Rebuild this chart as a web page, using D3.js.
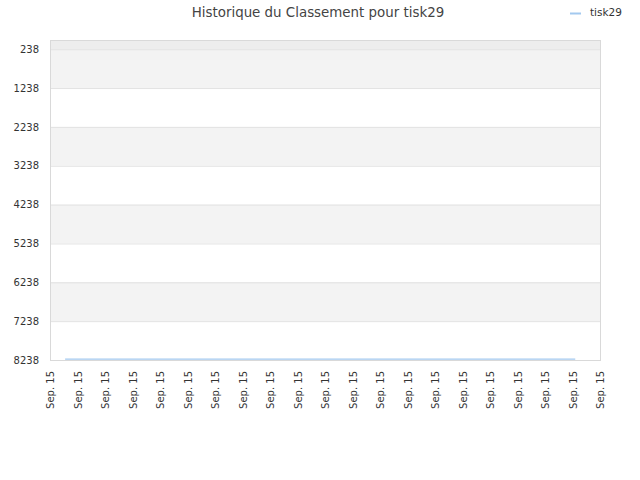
<!DOCTYPE html>
<html>
<head>
<meta charset="utf-8">
<style>
    body { margin: 0; background: #fff; font-family: "DejaVu Sans", sans-serif; }
    svg text { fill: #333; }
</style>
<script src="https://cdn.jsdelivr.net/npm/d3@7"></script>
</head>
<body>
<svg id="chart" width="640" height="480"></svg>
<script>
// data
let playerName = "tisk29"
let xLabels = ["Sep. 15", "Sep. 15", "Sep. 15", "Sep. 15", "Sep. 15", "Sep. 15", "Sep. 15",
    "Sep. 15", "Sep. 15", "Sep. 15", "Sep. 15", "Sep. 15", "Sep. 15", "Sep. 15",
    "Sep. 15", "Sep. 15", "Sep. 15", "Sep. 15", "Sep. 15", "Sep. 15", "Sep. 15"]
let yTicks = [238, 1238, 2238, 3238, 4238, 5238, 6238, 7238, 8238]
let pointX = [0.55, 19.1]
let pointRank = [8213, 8213]

let margin = { top: 40, right: 40, bottom: 120, left: 50 }
let width = 640, height = 480
let bodyWidth = width - margin.left - margin.right
let bodyHeight = height - margin.top - margin.bottom

let svg = d3.select("#chart")

let x = d3.scaleLinear().domain([0, xLabels.length - 1]).range([margin.left, margin.left + bodyWidth])
let y = d3.scaleLinear().domain([1, 8238]).range([margin.top, margin.top + bodyHeight])

// alternating bands
let bands = [[1, 238, "#ededed"]]
for (let i = 0; i < yTicks.length - 1; i++) {
    bands.push([yTicks[i], yTicks[i + 1], i % 2 === 0 ? "#f3f3f3" : "#ffffff"])
}
svg.append("g").selectAll("rect").data(bands).enter().append("rect")
    .attr("x", margin.left)
    .attr("width", bodyWidth)
    .attr("y", d => y(d[0]))
    .attr("height", d => y(d[1]) - y(d[0]))
    .attr("fill", d => d[2])

// grid lines
svg.append("g").selectAll("line").data(yTicks).enter().append("line")
    .attr("x1", margin.left).attr("x2", margin.left + bodyWidth)
    .attr("y1", d => y(d) + 0.5).attr("y2", d => y(d) + 0.5)
    .attr("stroke", "#e2e2e2")

// frame
svg.append("rect")
    .attr("x", margin.left + 0.5).attr("y", margin.top + 0.5)
    .attr("width", bodyWidth).attr("height", bodyHeight)
    .attr("fill", "none").attr("stroke", "#d9d9d9")

// y axis
let axisY = d3.axisLeft(y).tickValues(yTicks).tickSize(0).tickPadding(11).tickFormat(d => d)
let gy = svg.append("g").attr("transform", `translate(${margin.left},0)`).call(axisY)
gy.select(".domain").remove()
gy.selectAll("text").attr("font-size", 10).attr("font-family", "DejaVu Sans")

// x axis
let axisX = d3.axisBottom(x).tickValues(d3.range(xLabels.length)).tickSize(0).tickFormat(i => xLabels[i])
let gx = svg.append("g").attr("transform", `translate(0,${margin.top + bodyHeight})`).call(axisX)
gx.select(".domain").remove()
gx.selectAll("text")
    .attr("font-size", 10).attr("font-family", "DejaVu Sans")
    .attr("text-anchor", "end")
    .attr("transform", "rotate(-90)")
    .attr("x", -11).attr("y", 0).attr("dy", "0.35em")

// line
let line = d3.line().x((d, i) => x(pointX[i])).y(d => y(d))
svg.append("path").datum(pointRank)
    .attr("d", line)
    .attr("fill", "none")
    .attr("stroke", "#a3c9ef")
    .attr("stroke-width", 1.2)

// title
svg.append("text")
    .attr("x", 318).attr("y", 17)
    .attr("text-anchor", "middle")
    .attr("font-size", 13.4)
    .style("fill", "#444")
    .text("Historique du Classement pour " + playerName)

// legend
svg.append("line")
    .attr("x1", 570).attr("x2", 581).attr("y1", 13.5).attr("y2", 13.5)
    .attr("stroke", "#a3c9ef").attr("stroke-width", 2)
svg.append("text")
    .attr("x", 590).attr("y", 16)
    .attr("font-size", 10.5)
    .text(playerName)
</script>
</body>
</html>
